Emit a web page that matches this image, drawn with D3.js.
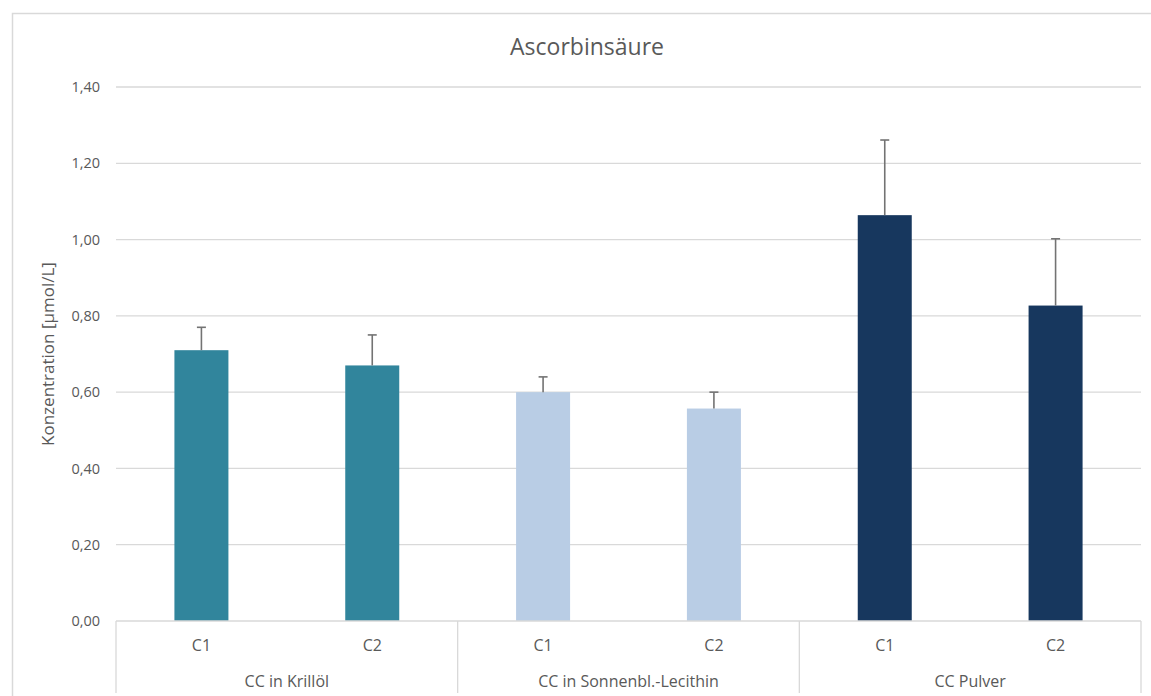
<!DOCTYPE html>
<html>
<head>
<meta charset="utf-8">
<script src="https://cdn.jsdelivr.net/npm/d3@7"></script>
<style>
  body { margin: 0; background: #fff; }
  text { font-family: "Open Sans", Lato, sans-serif; fill: #595959; }
</style>
</head>
<body>
<svg id="canvas" width="1151" height="696"></svg>
<script>
// data
let groups = ['CC in Krillöl', 'CC in Sonnenbl.-Lecithin', 'CC Pulver']
let subs = ['C1', 'C2']
let values = [0.71, 0.67, 0.60, 0.557, 1.064, 0.827]
let errors = [0.06, 0.08, 0.04, 0.043, 0.197, 0.175]
let groupColors = ['#31859C', '#B9CDE5', '#17375E']
let yTicks = [0, 0.2, 0.4, 0.6, 0.8, 1.0, 1.2, 1.4]

let canvas = d3.select('#canvas')

var margin = {top: 87, left: 116, right: 10, bottom: 75},
    width = 1141 - margin.left,
    height = 621 - margin.top

// chart frame
canvas.append('rect')
    .attr('x', 12.5).attr('y', 13.5)
    .attr('width', 1160).attr('height', 700)
    .attr('fill', 'none').attr('stroke', '#d9d9d9').attr('stroke-width', 1.5)

let g = canvas.append('g').attr('transform', 'translate(' + margin.left + ',' + margin.top + ')')

let y = d3.scaleLinear().domain([0, 1.4]).range([height, 0])

let x0 = d3.scaleBand().domain(groups).range([0, width])
let x1 = d3.scaleBand().domain(subs).range([0, x0.bandwidth()])

let fmt = d => d3.format('.2f')(d).replace('.', ',')

// gridlines
g.selectAll('.grid')
    .data(yTicks.slice(1))
    .enter()
    .append('line')
    .attr('x1', 0).attr('x2', width)
    .attr('y1', d => y(d)).attr('y2', d => y(d))
    .attr('stroke', '#d9d9d9').attr('stroke-width', 1.3)

// y axis labels
let yAxis = d3.axisLeft(y).tickValues(yTicks).tickFormat(fmt).tickSize(0).tickPadding(16)
let ya = g.append('g').call(yAxis)
ya.select('.domain').remove()
ya.selectAll('text').style('font-size', '14.5px').style('fill', '#595959').style('font-family', '"Open Sans", sans-serif')

// bars
let rows = []
groups.forEach(function(gr, i) {
    subs.forEach(function(s, j) {
        rows.push({group: gr, sub: s, value: values[i * 2 + j], err: errors[i * 2 + j], color: groupColors[i]})
    })
})

let bw = 54
g.selectAll('rect.bar')
    .data(rows)
    .enter()
    .append('rect')
    .attr('class', 'bar')
    .attr('x', d => x0(d.group) + x1(d.sub) + x1.bandwidth() / 2 - bw / 2)
    .attr('width', bw)
    .attr('y', d => y(d.value))
    .attr('height', d => height - y(d.value))
    .attr('fill', d => d.color)

// error bars (plus only)
let eb = g.selectAll('g.err').data(rows).enter().append('g')
eb.append('line')
    .attr('x1', d => x0(d.group) + x1(d.sub) + x1.bandwidth() / 2)
    .attr('x2', d => x0(d.group) + x1(d.sub) + x1.bandwidth() / 2)
    .attr('y1', d => y(d.value))
    .attr('y2', d => y(d.value + d.err))
    .attr('stroke', '#737373').attr('stroke-width', 1.6)
eb.append('line')
    .attr('x1', d => x0(d.group) + x1(d.sub) + x1.bandwidth() / 2 - 4.5)
    .attr('x2', d => x0(d.group) + x1(d.sub) + x1.bandwidth() / 2 + 4.5)
    .attr('y1', d => y(d.value + d.err))
    .attr('y2', d => y(d.value + d.err))
    .attr('stroke', '#737373').attr('stroke-width', 1.6)

// x axis baseline and group separators
g.append('line')
    .attr('x1', 0).attr('x2', width).attr('y1', height).attr('y2', height)
    .attr('stroke', '#d9d9d9').attr('stroke-width', 1.3)

let seps = groups.map(d => x0(d)).concat([width])
g.selectAll('.sep')
    .data(seps)
    .enter()
    .append('line')
    .attr('x1', d => d).attr('x2', d => d)
    .attr('y1', height).attr('y2', height + 72)
    .attr('stroke', '#d9d9d9').attr('stroke-width', 1.3)

// category labels
g.selectAll('.sub')
    .data(rows)
    .enter()
    .append('text')
    .attr('x', d => x0(d.group) + x1(d.sub) + x1.bandwidth() / 2)
    .attr('y', height + 30)
    .attr('text-anchor', 'middle')
    .style('font-size', '16px')
    .text(d => d.sub)

g.selectAll('.grp')
    .data(groups)
    .enter()
    .append('text')
    .attr('x', d => x0(d) + x0.bandwidth() / 2)
    .attr('y', height + 66)
    .attr('text-anchor', 'middle')
    .style('font-size', '16px')
    .text(d => d)

// title
canvas.append('text')
    .attr('x', 587).attr('y', 55)
    .attr('text-anchor', 'middle')
    .style('font-size', '23px')
    .text('Ascorbinsäure')

// y label
canvas.append('text')
    .attr('transform', 'translate(54,' + (margin.top + height / 2) + ') rotate(-90)')
    .attr('text-anchor', 'middle')
    .style('font-size', '17px')
    .text('Konzentration [µmol/L]')
</script>
</body>
</html>
